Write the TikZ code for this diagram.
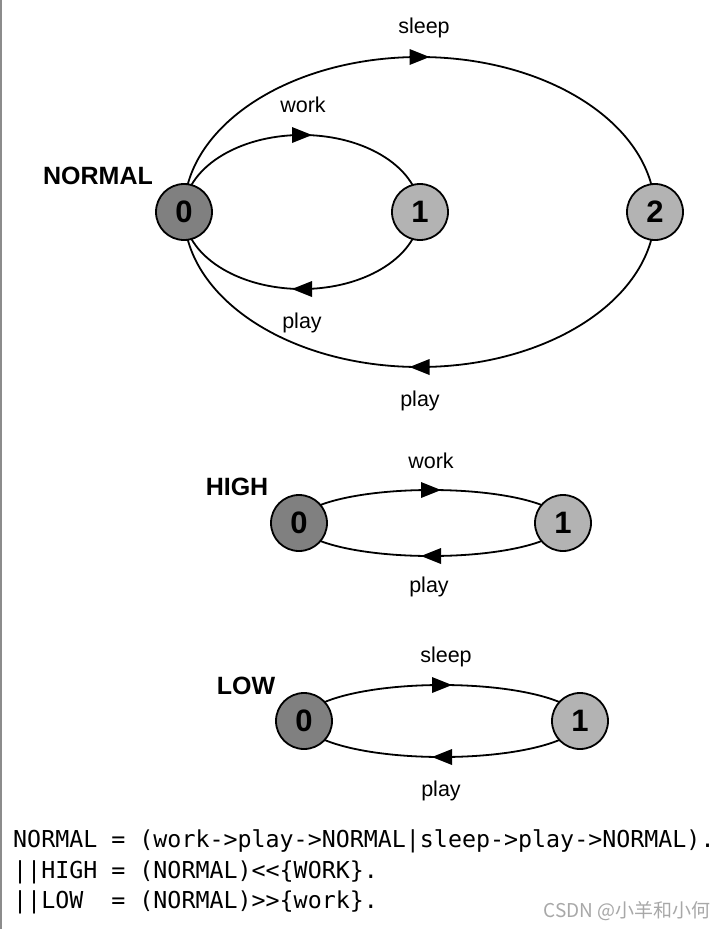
\documentclass[tikz,border=0pt]{standalone}
\usepackage{fontspec}
\setmainfont{Liberation Sans}
\newfontfamily\codefont{DejaVu Sans Mono}
\newfontfamily\cjkfont{Noto Sans CJK SC}
\usetikzlibrary{decorations.markings,backgrounds}

\definecolor{statedark}{HTML}{808080}
\definecolor{statelight}{HTML}{B3B3B3}
\definecolor{framegray}{HTML}{8C8C8C}
\definecolor{markgray}{HTML}{A8A8A8}

\tikzset{
  state/.style={circle, draw, line width=1.8pt, minimum size=56pt, inner sep=0pt,
    font=\bfseries\fontsize{31}{31}\selectfont},
  startstate/.style={state, fill=statedark},
  otherstate/.style={state, fill=statelight},
  procname/.style={inner sep=0pt, font=\bfseries\fontsize{25}{25}\selectfont},
  actlabel/.style={anchor=base, inner sep=0pt, font=\fontsize{21.5}{21.5}\selectfont},
  codeline/.style={anchor=base west, inner sep=0pt, font=\codefont\fontsize{23.3}{23.3}\selectfont},
  trans/.style={line width=1.8pt, postaction={decorate},
    decoration={markings, mark=at position 0.5 with
      {\fill (10,0) -- (-10,8) -- (-10,-8) -- cycle;}}},
}

\begin{document}
\begin{tikzpicture}[x=1pt, y=1pt]
\useasboundingbox (0,0) rectangle (726,-929);

% left frame rule
\draw[line width=2pt, framegray] (1,0) -- (1,-929);

% ---------------- NORMAL ----------------
\node[procname] (normal) at (98,-176) {NORMAL};
\node[startstate] (a0) at (184,-212) {0};
\node[otherstate] (a1) at (420,-212) {1};
\node[otherstate] (a2) at (655,-212) {2};

\node[actlabel] (aWork)  at (303,-112) {work};
\node[actlabel] (aSleep) at (424,-33)  {sleep};
\node[actlabel] (aPlay1) at (302,-328) {play};
\node[actlabel] (aPlay2) at (420,-406) {play};

% ---------------- HIGH ----------------
\node[procname] (high) at (237,-487) {HIGH};
\node[startstate] (b0) at (299,-523) {0};
\node[otherstate] (b1) at (563,-523) {1};
\node[actlabel] (bWork) at (431,-468) {work};
\node[actlabel] (bPlay) at (429,-592) {play};

% ---------------- LOW ----------------
\node[procname] (low) at (246,-686) {LOW};
\node[startstate] (c0) at (304,-721) {0};
\node[otherstate] (c1) at (580,-721) {1};
\node[actlabel] (cSleep) at (446,-662) {sleep};
\node[actlabel] (cPlay)  at (441,-796) {play};

% transitions, drawn behind the states
\begin{scope}[on background layer]
  \fill[white] (0,0) rectangle (726,-929);
  \draw[trans] (a0.center) arc[start angle=180, end angle=0,   x radius=118pt,   y radius=77pt];
  \draw[trans] (a1.center) arc[start angle=0,   end angle=-180, x radius=118pt,   y radius=77pt];
  \draw[trans] (a0.center) arc[start angle=180, end angle=0,   x radius=235.5pt, y radius=155pt];
  \draw[trans] (a2.center) arc[start angle=0,   end angle=-180, x radius=235.5pt, y radius=155pt];

  \draw[trans] (b0.center) arc[start angle=180, end angle=0,   x radius=132pt, y radius=33pt];
  \draw[trans] (b1.center) arc[start angle=0,   end angle=-180, x radius=132pt, y radius=33pt];

  \draw[trans] (c0.center) arc[start angle=180, end angle=0,   x radius=138pt, y radius=36pt];
  \draw[trans] (c1.center) arc[start angle=0,   end angle=-180, x radius=138pt, y radius=36pt];
\end{scope}

% FSP definitions
\node[codeline] (def1) at (13,-847) {NORMAL = (work->play->NORMAL|sleep->play->NORMAL).};
\node[codeline] (def2) at (13,-878) {||HIGH = (NORMAL)<\kern0pt<\{WORK\}.};
\node[codeline] (def3) at (13,-908) {||LOW\ \ = (NORMAL)>\kern0pt>\{work\}.};

\node[anchor=base east, inner sep=0pt, text=markgray, font=\cjkfont\fontsize{19}{19}\selectfont]
  (mark) at (711,-917) {CSDN @小羊和小何};
\end{tikzpicture}
\end{document}
